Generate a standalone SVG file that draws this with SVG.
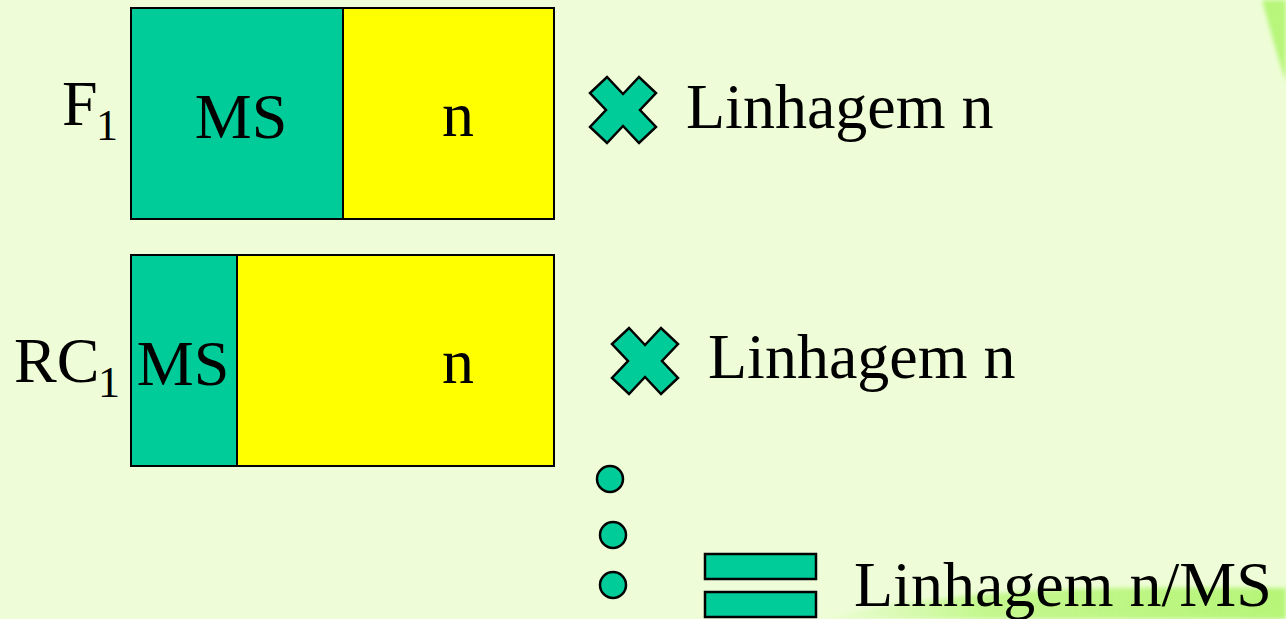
<svg xmlns="http://www.w3.org/2000/svg" width="1286" height="619" viewBox="0 0 1286 619">
  <defs>
    <linearGradient id="bandFade" x1="0" y1="0" x2="1" y2="0">
      <stop offset="0" stop-color="#b9f67c" stop-opacity="0"/>
      <stop offset="0.35" stop-color="#b9f67c" stop-opacity="0.8"/>
      <stop offset="1" stop-color="#b6f578" stop-opacity="1"/>
    </linearGradient>
    <filter id="soft" x="-10%" y="-50%" width="120%" height="200%">
      <feGaussianBlur stdDeviation="2"/>
    </filter>
  </defs>
  <style>
    text { font-family: "Liberation Serif", "DejaVu Serif", "Times New Roman", serif; fill: #000; }
    .txt { font-size: 64px; }
    .sub { font-size: 44px; }
    .ms { fill: #00cc99; stroke: #000; stroke-width: 2; }
    .yl { fill: #ffff00; stroke: #000; stroke-width: 2; }
    .mark { fill: #00cc99; stroke: #000; stroke-width: 2.5; stroke-linejoin: miter; }
  </style>

  <!-- background -->
  <rect x="0" y="0" width="1286" height="619" fill="#eefdd7"/>
  <path d="M1262,0 C1268,22 1276,52 1286,82 L1286,0 Z" fill="#b7f67a" filter="url(#soft)"/>
  <path d="M820,619 C900,600 1000,590 1120,588 C1200,587 1260,588 1286,588 L1286,619 Z" fill="url(#bandFade)" filter="url(#soft)"/>

  <!-- row F1 -->
  <g id="label-f1">
    <text class="txt" x="62" y="125" font-family="Liberation Serif, serif">F</text>
    <text class="sub" x="96" y="140" font-family="Liberation Serif, serif">1</text>
  </g>
  <g id="bar-f1">
    <rect class="ms" x="131" y="8" width="212" height="211"/>
    <rect class="yl" x="343" y="8" width="211" height="211"/>
    <text class="txt" x="241" y="138" text-anchor="middle" font-family="Liberation Serif, serif">MS</text>
    <text class="txt" x="458" y="136" text-anchor="middle" font-family="Liberation Serif, serif">n</text>
  </g>
  <g id="cross-1">
    <polygon class="mark" points="623,94 607,77 590,93 606,110 590,127 607,143 623,126 639,143 656,127 640,110 656,93 639,77"/>
    <text class="txt" x="686" y="128" font-family="Liberation Serif, serif">Linhagem n</text>
  </g>

  <!-- row RC1 -->
  <g id="label-rc1">
    <text class="txt" x="14" y="382" font-family="Liberation Serif, serif">RC</text>
    <text class="sub" x="98" y="397" font-family="Liberation Serif, serif">1</text>
  </g>
  <g id="bar-rc1">
    <rect class="ms" x="131" y="255" width="106" height="211"/>
    <rect class="yl" x="237" y="255" width="317" height="211"/>
    <text class="txt" x="183" y="385" text-anchor="middle" font-family="Liberation Serif, serif">MS</text>
    <text class="txt" x="458" y="383" text-anchor="middle" font-family="Liberation Serif, serif">n</text>
  </g>
  <g id="cross-2">
    <polygon class="mark" points="645,345 629,328 612,344 628,361 612,378 629,394 645,377 661,394 678,378 662,361 678,344 661,328"/>
    <text class="txt" x="708" y="378" font-family="Liberation Serif, serif">Linhagem n</text>
  </g>

  <!-- continuation dots -->
  <g id="dots">
    <circle class="mark" cx="610" cy="479" r="13"/>
    <circle class="mark" cx="613" cy="535" r="13"/>
    <circle class="mark" cx="613" cy="585" r="13"/>
  </g>

  <!-- final line -->
  <g id="equals">
    <rect class="mark" x="705" y="554" width="111" height="25"/>
    <rect class="mark" x="705" y="592" width="111" height="25"/>
    <text class="txt" x="854" y="606" font-family="Liberation Serif, serif">Linhagem n/MS</text>
  </g>
</svg>
